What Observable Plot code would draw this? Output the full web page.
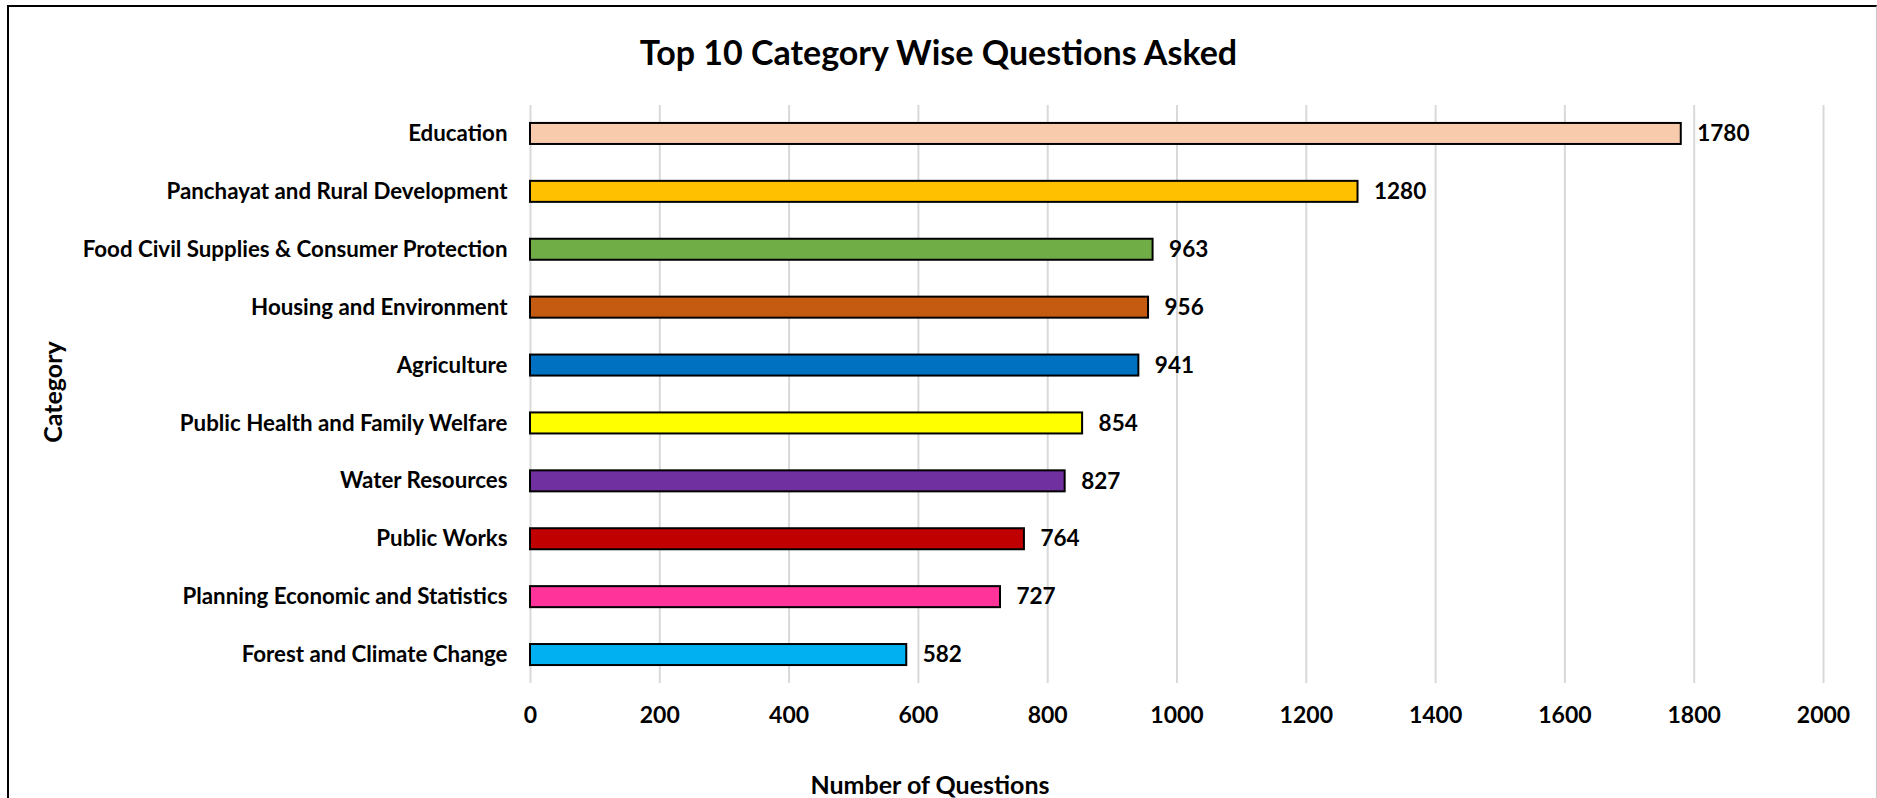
<!DOCTYPE html>
<html>
<head>
<meta charset="utf-8">
<script src="https://cdn.jsdelivr.net/npm/d3@7"></script>
<script src="https://cdn.jsdelivr.net/npm/@observablehq/plot@0.6"></script>
<style>
  html, body { margin: 0; padding: 0; background: #fff; overflow: hidden; }
  body { width: 1877px; height: 798px; position: relative; font-family: Lato, "Open Sans", sans-serif; }
  #frame { position: absolute; left: 7px; top: 5px; width: 1867px; height: 900px;
           border-left: 2px solid #000; border-top: 2px solid #000; border-right: 1px solid #c8c8c8; box-sizing: content-box; pointer-events: none; }
  #title { position: absolute; left: 0; top: 0; width: 1877px; height: 90px; text-align: center;
           font-weight: 700; font-size: 34px; line-height: 103px; color: #000; }
  #chart { position: absolute; left: 0; top: 90px; }
  #xlabel { position: absolute; left: 930px; top: 784px; transform: translate(-50%, -50%); font-weight: 700; font-size: 25px; white-space: nowrap; }
  #ylabel { position: absolute; left: 52px; top: 392px; transform: translate(-50%, -50%) rotate(-90deg); font-weight: 700; font-size: 25px; white-space: nowrap; }
</style>
</head>
<body>
<div id="title">Top 10 Category Wise Questions Asked</div>
<div id="chart"></div>
<div id="xlabel">Number of Questions</div>
<div id="ylabel">Category</div>
<div id="frame"></div>
<script>
const categories = [
  "Education",
  "Panchayat and Rural Development",
  "Food Civil Supplies & Consumer Protection",
  "Housing and Environment",
  "Agriculture",
  "Public Health and Family Welfare",
  "Water Resources",
  "Public Works",
  "Planning Economic and Statistics",
  "Forest and Climate Change"
];
const questions = [1780, 1280, 963, 956, 941, 854, 827, 764, 727, 582];
const barColors = ["#F8CBAD", "#FFC000", "#70AD47", "#C55A11", "#0070C0", "#FFFF00", "#7030A0", "#C00000", "#FF3399", "#00B0F0"];
const xTicks = [0, 200, 400, 600, 800, 1000, 1200, 1400, 1600, 1800, 2000];

const data = categories.map((c, i) => ({category: c, value: questions[i], color: barColors[i]}));

const chart = Plot.plot({
  width: 1877,
  height: 708,
  marginLeft: 530,
  marginRight: 54,
  marginTop: 15,
  marginBottom: 115,
  style: {fontFamily: "Lato, 'Open Sans', sans-serif", fontWeight: 700, fontSize: "22px", color: "#000", background: "#fff"},
  x: {domain: [0, 2000], ticks: xTicks, label: null},
  y: {domain: categories, paddingInner: 0.637, paddingOuter: 0.31, round: false, label: null},
  marks: [
    Plot.gridX(xTicks, {stroke: "#D9D9D9", strokeOpacity: 1, strokeWidth: 2}),
    Plot.axisX({ticks: xTicks, tickSize: 0, tickPadding: 23, tickFormat: d => String(d), label: null, fontSize: 23, fontWeight: 700}),
    Plot.axisY({tickSize: 0, tickPadding: 23, label: null, fontSize: 22.3, fontWeight: 700}),
    Plot.barX(data, {x: "value", y: "category", fill: "color", stroke: "#000", strokeWidth: 2}),
    Plot.text(data, {x: "value", y: "category", text: d => String(d.value), textAnchor: "start", dx: 16, fontSize: 22.5, fontWeight: 700, fill: "#000"})
  ]
});
document.getElementById("chart").appendChild(chart);
</script>
</body>
</html>
